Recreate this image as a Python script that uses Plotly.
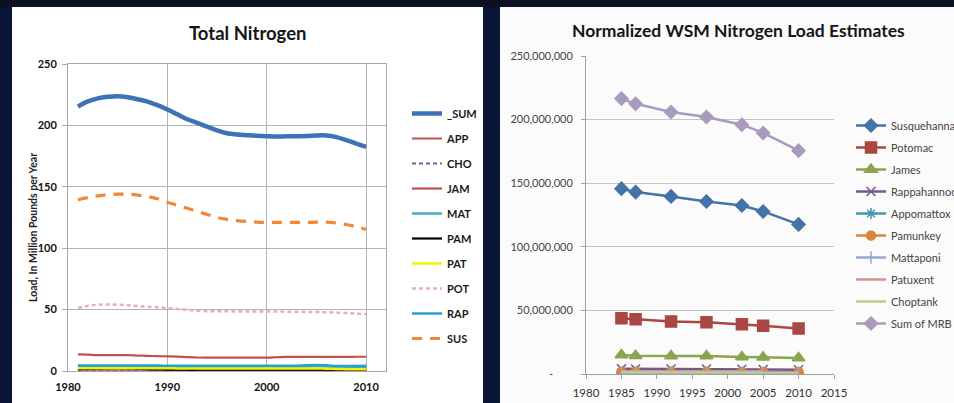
import plotly.graph_objects as go

W, H = 954, 403

# ---------------- Left chart data (million lb / yr) ----------------
tn_years = [1981, 1982, 1983, 1984, 1985, 1986, 1987, 1988, 1989, 1990,
            1991, 1992, 1993, 1994, 1995, 1996, 1997, 1998, 1999, 2000,
            2001, 2002, 2003, 2004, 2005, 2006, 2007, 2008, 2009, 2010]
tn_sum = [215.3, 219.5, 222.0, 223.3, 223.8, 223.0, 221.3, 219.4, 216.5, 213.0,
          209.0, 205.0, 202.0, 199.0, 196.0, 193.6, 192.6, 192.0, 191.5, 191.2,
          191.0, 191.1, 191.2, 191.3, 191.8, 191.8, 190.5, 188.0, 185.2, 182.5]
tn_app = [1.0, 1.0, 1.0, 1.0, 1.1, 1.0, 1.0, 1.0, 1.0, 0.9,
          0.9, 0.9, 0.9, 0.9, 0.9, 0.9, 0.9, 0.9, 0.9, 0.9,
          0.9, 0.9, 0.9, 0.9, 0.9, 0.9, 0.9, 0.9, 0.9, 0.9]
tn_cho = [0.8, 0.8, 0.8, 0.8, 0.8, 0.8, 0.8, 0.8, 0.8, 0.8,
          0.8, 0.8, 0.8, 0.8, 0.8, 0.8, 0.8, 0.8, 0.8, 0.8,
          0.8, 0.8, 0.8, 0.8, 0.8, 0.8, 0.8, 0.8, 0.8, 0.8]
tn_jam = [13.6, 13.3, 13.0, 13.0, 13.0, 12.9, 12.6, 12.3, 12.1, 11.9,
          11.7, 11.3, 11.0, 10.9, 10.9, 10.9, 10.9, 10.9, 10.9, 10.9,
          11.2, 11.5, 11.5, 11.5, 11.5, 11.5, 11.5, 11.5, 11.6, 11.6]
tn_mat = [3.6, 3.6, 3.7, 3.7, 3.7, 3.7, 3.7, 3.6, 3.6, 3.5,
          3.5, 3.5, 3.5, 3.5, 3.5, 3.5, 3.5, 3.5, 3.5, 3.5,
          3.5, 3.5, 3.5, 3.6, 3.8, 3.7, 3.4, 3.3, 3.4, 3.5]
tn_pam = [1.5, 1.7, 1.9, 2.1, 2.3, 2.1, 1.8, 1.5, 1.3, 1.2,
          1.1, 1.0, 1.0, 1.0, 1.0, 1.0, 1.0, 1.0, 1.0, 1.0,
          1.0, 1.0, 1.0, 1.0, 1.0, 1.0, 1.0, 1.0, 1.0, 1.0]
tn_pat = [2.2, 2.2, 2.3, 2.3, 2.3, 2.3, 2.3, 2.2, 2.2, 2.2,
          2.1, 2.1, 2.1, 2.1, 2.1, 2.1, 2.1, 2.1, 2.1, 2.1,
          2.1, 2.1, 2.0, 2.0, 2.0, 1.9, 1.7, 1.5, 1.4, 1.4]
tn_pot = [51.4, 53.0, 54.0, 54.2, 54.0, 53.5, 53.0, 52.3, 52.0, 51.2,
          50.5, 49.8, 49.0, 48.7, 48.6, 48.6, 48.5, 48.5, 48.4, 48.4,
          48.4, 48.3, 48.2, 48.1, 48.0, 47.8, 47.6, 47.2, 46.8, 46.2]
tn_rap = [4.4, 4.4, 4.5, 4.5, 4.5, 4.5, 4.5, 4.4, 4.4, 4.3,
          4.2, 4.2, 4.2, 4.2, 4.2, 4.2, 4.2, 4.2, 4.2, 4.2,
          4.2, 4.2, 4.3, 4.6, 4.8, 4.6, 4.1, 4.0, 4.1, 4.2]
tn_sus = [139.5, 141.2, 142.6, 143.6, 144.0, 144.0, 143.2, 142.0, 140.3, 137.5,
          135.0, 132.5, 130.0, 127.5, 125.0, 123.5, 122.5, 121.8, 121.3, 121.0,
          121.0, 121.0, 121.0, 121.0, 121.2, 121.2, 120.5, 119.3, 117.5, 115.3]

tn_names = ["_SUM", "APP", "CHO", "JAM", "MAT", "PAM", "PAT", "POT", "RAP", "SUS"]
tn_series = [tn_sum, tn_app, tn_cho, tn_jam, tn_mat, tn_pam, tn_pat, tn_pot, tn_rap, tn_sus]
tn_colors = ["#3d72b4", "#c0504d", "#7d5ba6", "#c0504d", "#4bacc6",
             "#000000", "#f2f200", "#e6b0b4", "#1fa2d6", "#f0883a"]
tn_widths = [4.5, 2, 2, 2.2, 2.5, 2.2, 2.5, 2.5, 2.5, 3.2]
tn_dash = ["solid", "solid", "4px,3px", "solid", "solid", "solid", "solid",
           "4px,3px", "solid", "10px,8px"]

tn_yticks = [0, 50, 100, 150, 200, 250]
tn_xticks = [1980, 1990, 2000, 2010]

# ---------------- Right chart data (lb / yr) ----------------
wsm_years = [1985, 1987, 1992, 1997, 2002, 2005, 2010]
wsm_susquehanna = [145_700_000, 143_000_000, 139_600_000, 135_600_000, 132_500_000, 127_800_000, 117_600_000]
wsm_potomac = [43_900_000, 43_000_000, 41_200_000, 40_700_000, 39_100_000, 38_000_000, 35_700_000]
wsm_james = [15_000_000, 14_300_000, 14_200_000, 14_200_000, 13_400_000, 13_100_000, 12_600_000]
wsm_rappahannock = [4_100_000, 4_000_000, 3_900_000, 3_900_000, 3_700_000, 3_600_000, 3_400_000]
wsm_appomattox = [1_000_000, 1_000_000, 900_000, 900_000, 900_000, 900_000, 800_000]
wsm_pamunkey = [1_800_000, 1_800_000, 1_700_000, 1_700_000, 1_600_000, 1_600_000, 1_500_000]
wsm_mattaponi = [1_200_000, 1_200_000, 1_100_000, 1_100_000, 1_100_000, 1_000_000, 1_000_000]
wsm_patuxent = [2_200_000, 2_200_000, 2_100_000, 2_100_000, 2_000_000, 2_000_000, 1_900_000]
wsm_choptank = [1_400_000, 1_400_000, 1_300_000, 1_300_000, 1_300_000, 1_200_000, 1_200_000]
wsm_sum_mrb = [216_500_000, 212_400_000, 206_000_000, 202_000_000, 196_000_000, 189_500_000, 175_600_000]

wsm_names = ["Susquehanna", "Potomac", "James", "Rappahannock", "Appomattox",
             "Pamunkey", "Mattaponi", "Patuxent", "Choptank", "Sum of MRB"]
wsm_series = [wsm_susquehanna, wsm_potomac, wsm_james, wsm_rappahannock, wsm_appomattox,
              wsm_pamunkey, wsm_mattaponi, wsm_patuxent, wsm_choptank, wsm_sum_mrb]
wsm_colors = ["#4572a7", "#aa4643", "#89a54e", "#71588f", "#4198af",
              "#db843d", "#93a9cf", "#d19392", "#b9cd96", "#a99bbd"]
wsm_symbols = ["diamond", "square", "triangle-up", "x-thin", "asterisk",
               "circle", "line-ns", None, None, "diamond"]
wsm_msizes = [10, 11, 11, 9, 9, 9, 9, 0, 0, 10]

wsm_yticks = [0, 50_000_000, 100_000_000, 150_000_000, 200_000_000, 250_000_000]
wsm_yticktext = ["-       ", "50,000,000", "100,000,000", "150,000,000", "200,000,000", "250,000,000"]
wsm_xticks = [1980, 1985, 1990, 1995, 2000, 2005, 2010, 2015]


def px_x(p):
    return p / W


def px_y(p):
    return 1 - p / H


fig = go.Figure()

for i, (name, vals) in enumerate(zip(tn_names, tn_series)):
    fig.add_trace(go.Scatter(
        x=tn_years, y=vals, name=name, mode="lines",
        line=dict(color=tn_colors[i], width=tn_widths[i], dash=tn_dash[i], shape="spline"),
        xaxis="x", yaxis="y", legend="legend", legendgroup="tn" + name,
        showlegend=True,
    ))

for i, (name, vals) in enumerate(zip(wsm_names, wsm_series)):
    sym = wsm_symbols[i]
    if sym is None:
        mode = "lines"
        marker = dict()
    else:
        mode = "lines+markers"
        marker = dict(symbol=sym, size=wsm_msizes[i], color=wsm_colors[i],
                      line=dict(color=wsm_colors[i], width=1.5))
    fig.add_trace(go.Scatter(
        x=wsm_years, y=vals, name=name, mode=mode,
        line=dict(color=wsm_colors[i], width=2.5),
        marker=marker,
        xaxis="x2", yaxis="y2", legend="legend2", legendgroup="wsm" + name,
    ))

shapes = [
    dict(type="rect", xref="paper", yref="paper", x0=0, x1=1, y0=px_y(7), y1=1,
         fillcolor="#0d1020", line=dict(width=0), layer="below"),
    dict(type="rect", xref="paper", yref="paper", x0=px_x(12), x1=px_x(483),
         y0=0, y1=px_y(7), fillcolor="#ffffff", line=dict(width=0), layer="below"),
    dict(type="rect", xref="paper", yref="paper", x0=px_x(500), x1=1,
         y0=0, y1=px_y(7), fillcolor="#fbfbfb", line=dict(width=0), layer="below"),
]

annotations = [
    dict(text="<b>Total Nitrogen</b>", xref="paper", yref="paper",
         x=px_x(247), y=px_y(33), xanchor="center", yanchor="middle", showarrow=False,
         font=dict(family="Lato", size=18.5, color="#151515")),
    dict(text="<b>Normalized WSM Nitrogen Load Estimates</b>", xref="paper", yref="paper",
         x=px_x(738), y=px_y(30), xanchor="center", yanchor="middle", showarrow=False,
         font=dict(family="Lato", size=17.5, color="#151515")),
    dict(text="<b>Load, In Million Pounds per Year</b>", xref="paper", yref="paper",
         x=px_x(33), y=px_y(228), xanchor="center", yanchor="middle", showarrow=False,
         textangle=-90, font=dict(family="Lato", size=10.5, color="#222222")),
]

fig.update_layout(
    width=W, height=H,
    margin=dict(l=0, r=0, t=0, b=0, autoexpand=False),
    paper_bgcolor="#0b1538",
    plot_bgcolor="rgba(0,0,0,0)",
    shapes=shapes,
    annotations=annotations,
    showlegend=True,
    xaxis=dict(domain=[px_x(68), px_x(386)], range=[1980, 2012], anchor="y",
               tickvals=tn_xticks, showgrid=True, gridcolor="#b4b4b4", gridwidth=1,
               showline=True, linecolor="#a8a8a8", mirror=True, zeroline=False,
               ticks="", ticklabelstandoff=6,
               tickfont=dict(family="Lato", size=11, color="#111111", weight="bold"),
               fixedrange=True),
    yaxis=dict(domain=[px_y(371), px_y(64)], range=[0, 250], anchor="x",
               tickvals=tn_yticks, showgrid=True, gridcolor="#b4b4b4", gridwidth=1,
               showline=True, linecolor="#a8a8a8", mirror=True, zeroline=False,
               ticks="outside", ticklen=5, tickcolor="#a8a8a8", ticklabelstandoff=3,
               tickfont=dict(family="Lato", size=11, color="#111111", weight="bold"),
               fixedrange=True),
    xaxis2=dict(domain=[px_x(586), px_x(834)], range=[1980, 2015], anchor="y2",
                tickvals=wsm_xticks, showgrid=False, showline=True, linecolor="#a0a0a0",
                zeroline=False, ticks="outside", ticklen=4, tickcolor="#a0a0a0",
                ticklabelstandoff=4,
                tickfont=dict(family="Lato", size=11.5, color="#333333"), fixedrange=True),
    yaxis2=dict(domain=[px_y(374), px_y(56)], range=[0, 250_000_000], anchor="x2",
                tickvals=wsm_yticks, ticktext=wsm_yticktext, showgrid=True,
                gridcolor="#c4c4c4", showline=True, linecolor="#a0a0a0", zeroline=False,
                ticks="outside", ticklen=4, tickcolor="#a0a0a0", ticklabelstandoff=6,
                tickfont=dict(family="Lato", size=11, color="#444444"), fixedrange=True),
    legend=dict(x=px_x(407), y=px_y(99), xanchor="left", yanchor="top",
                bgcolor="rgba(0,0,0,0)", borderwidth=0, traceorder="grouped",
                tracegroupgap=6, itemwidth=30,
                font=dict(family="Lato", size=11, color="#1a1a1a", weight="bold")),
    legend2=dict(x=px_x(851), y=px_y(111), xanchor="left", yanchor="top",
                 bgcolor="rgba(0,0,0,0)", borderwidth=0, traceorder="grouped",
                 tracegroupgap=3, itemwidth=30,
                 font=dict(family="Lato", size=11, color="#444444")),
)

fig.write_html(
    "out.html",
    config={"displayModeBar": False},
    post_script="document.body.style.margin='0';document.body.style.overflow='hidden';"
                "document.body.style.background='#0b1538';",
)
